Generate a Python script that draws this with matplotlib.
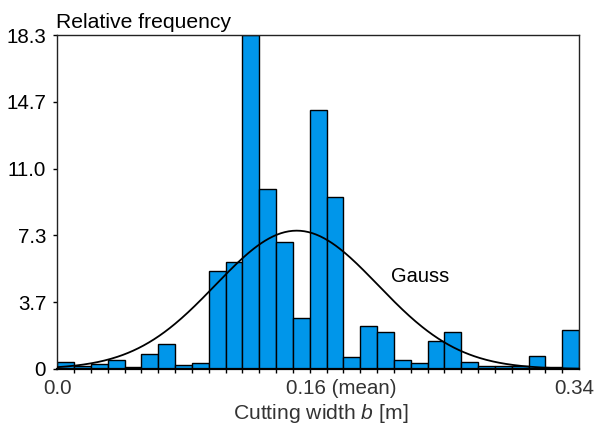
import matplotlib
matplotlib.use('Agg')
import matplotlib.pyplot as plt
import matplotlib.transforms as mtransforms
import numpy as np

plt.rcParams['font.family'] = ['Liberation Sans', 'DejaVu Sans']
plt.rcParams['mathtext.fontset'] = 'custom'
plt.rcParams['mathtext.rm'] = 'Liberation Sans'
plt.rcParams['mathtext.it'] = 'Liberation Sans:italic'

# relative frequency per bin (31 bins between 0 and 0.34 m)
x_min = 0.0
x_max = 0.34
rel_freq = [0.37, 0.18, 0.26, 0.48, 0.11, 0.80, 1.35, 0.24, 0.33, 5.37,
            5.86, 18.3, 9.88, 6.98, 2.81, 14.19, 9.44, 0.64, 2.36, 2.05,
            0.49, 0.33, 1.53, 2.01, 0.40, 0.18, 0.16, 0.16, 0.71, 0.13, 2.14]

# fitted normal curve
gauss_mean = 0.156
gauss_sigma = 0.053
gauss_peak = 7.58

y_ticks = [0, 3.66, 7.32, 10.98, 14.64, 18.3]
y_ticklabels = ['0', '3.7', '7.3', '11.0', '14.7', '18.3']
x_ticks = [0.0, gauss_mean, 0.34]
x_ticklabels = ['0.0', '0.16 (mean)', '0.34']

edges = np.linspace(x_min, x_max, len(rel_freq) + 1)
width = edges[1] - edges[0]

fig = plt.figure(figsize=(5.97, 4.25), dpi=100)
ax = fig.add_axes([0.096, 0.1318, 0.874, 0.7858])

ax.bar(edges[:-1], rel_freq, width=width, align='edge', color='#0096EA',
       edgecolor='black', linewidth=1.0, zorder=2)

xs = np.linspace(x_min, x_max, 400)
ax.plot(xs, gauss_peak * np.exp(-(xs - gauss_mean) ** 2 / (2 * gauss_sigma ** 2)),
        color='black', linewidth=1.3, zorder=3)
ax.text(0.2173, 4.77, 'Gauss', fontsize=14.5, ha='left', va='baseline', zorder=4)

ax.set_xlim(x_min, x_max)
ax.set_ylim(0, 18.3)
ax.set_yticks(y_ticks)
ax.set_yticklabels(y_ticklabels)
ax.set_xticks(x_ticks)
ax.set_xticklabels(x_ticklabels)
ax.set_xticks(edges, minor=True)
ax.tick_params(axis='y', direction='out', length=3, width=1, pad=5,
               labelsize=14.8, colors='black')
ax.tick_params(axis='x', which='major', length=0, pad=7, labelsize=14.8,
               labelcolor='#333333')
ax.tick_params(axis='x', which='minor', direction='out', length=3, width=1)

labels = ax.get_xticklabels()
labels[1].set_horizontalalignment('left')
labels[1].set_transform(labels[1].get_transform() +
                        mtransforms.ScaledTranslation(-11 / 100, 0, fig.dpi_scale_trans))
labels[2].set_transform(labels[2].get_transform() +
                        mtransforms.ScaledTranslation(-5 / 100, 0, fig.dpi_scale_trans))

for side in ['left', 'right', 'top']:
    ax.spines[side].set_linewidth(1.0)
    ax.spines[side].set_color('#222222')
ax.spines['bottom'].set_linewidth(1.6)

fig.text(56 / 597, 1 - 28 / 425, 'Relative frequency', fontsize=15.2,
         ha='left', va='baseline')
fig.text(321 / 597, 1 - 419 / 425, 'Cutting width $b$ [m]', fontsize=15.2,
         ha='center', va='baseline', color='#333333')

fig.savefig('out.png', dpi=100)
